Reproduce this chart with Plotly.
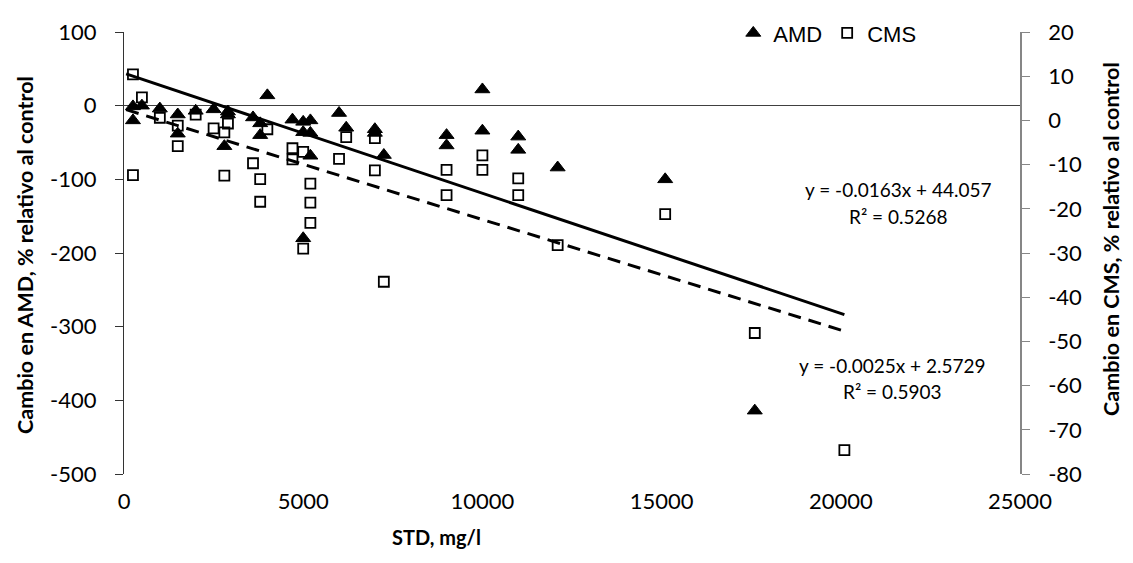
import plotly.graph_objects as go

# ---- data ----
amd_x = [250, 250, 500, 1000, 1500, 1500, 2000, 2500, 2900, 2900, 2800, 4000, 3600, 3800, 3800,
         4700, 5000, 5200, 5000, 5200, 5200, 5000, 6000, 6200, 7000, 7000, 7250, 9000, 9000,
         10000, 10000, 11000, 11000, 12100, 15100, 17600]
amd_y = [-1, -20, 0, -4, -12, -38, -7, -5, -8, -12, -55, 14, -16, -24, -40,
         -19, -22, -20, -36, -37, -68, -180, -10, -30, -32, -37, -67, -40, -54,
         22, -34, -42, -60, -84, -100, -414]

cms_x = [250, 250, 500, 1000, 1500, 1500, 2000, 2500, 2800, 2900, 2800, 3600, 3800, 3800, 4000,
         4700, 4700, 5000, 5200, 5200, 5200, 5000, 6000, 6200, 7000, 7000, 7250, 9000, 9000,
         10000, 10000, 11000, 11000, 12100, 15100, 17600, 20100]
cms_y = [10.4, -12.4, 5.2, 0.6, -1.2, -5.8, 1.3, -1.8, -2.7, -0.7, -12.5, -9.7, -13.3, -18.4, -2.0,
         -6.3, -8.8, -7.1, -14.3, -18.6, -23.2, -29.0, -8.7, -3.8, -4.0, -11.3, -36.5, -11.2, -16.9,
         -7.9, -11.2, -13.1, -16.9, -28.2, -21.2, -48.1, -74.6]

amd_slope, amd_intercept, amd_r2 = -0.0163, 44.057, 0.5268
cms_slope, cms_intercept, cms_r2 = -0.0025, 2.5729, 0.5903
trend_x = [60, 20100]

x_ticks = [0, 5000, 10000, 15000, 20000, 25000]
y1_ticks = [100, 0, -100, -200, -300, -400, -500]
y2_ticks = [20, 10, 0, -10, -20, -30, -40, -50, -60, -70, -80]

FONT = "Lato"

fig = go.Figure()

fig.add_trace(go.Scatter(
    x=cms_x, y=cms_y, mode="markers", name="CMS", yaxis="y2",
    marker=dict(symbol="square-open", size=10, color="black", line=dict(width=1.8, color="black")),
))
fig.add_trace(go.Scatter(
    x=amd_x, y=amd_y, mode="markers", name="AMD",
    marker=dict(symbol="triangle-up", size=13, color="black", line=dict(width=1, color="black")),
))
fig.add_trace(go.Scatter(
    x=trend_x, y=[amd_slope * v + amd_intercept for v in trend_x], mode="lines",
    line=dict(color="black", width=3), showlegend=False, hoverinfo="skip",
))
fig.add_trace(go.Scatter(
    x=trend_x, y=[cms_slope * v + cms_intercept for v in trend_x], mode="lines", yaxis="y2",
    line=dict(color="black", width=3, dash="13px,8px"), showlegend=False, hoverinfo="skip",
))

fig.update_layout(
    width=1133, height=563,
    margin=dict(l=124, r=113, t=22, b=89),
    paper_bgcolor="white", plot_bgcolor="white",
    font=dict(family=FONT, color="black", size=22),
    showlegend=True,
    legend=dict(orientation="h", x=0.68, y=1.045, xanchor="left", yanchor="top",
                font=dict(family="Liberation Sans", size=22), bgcolor="rgba(0,0,0,0)",
                traceorder="reversed"),
    xaxis=dict(range=[0, 25000], tickvals=x_ticks, ticktext=[str(v) for v in x_ticks],
               showgrid=False, zeroline=False,
               showline=False, ticks="", ticklabelstandoff=12,
               tickfont=dict(family=FONT, size=22)),
    yaxis=dict(range=[-500, 100], tickvals=y1_ticks, ticktext=[str(v) for v in y1_ticks],
               showgrid=False, zeroline=True,
               zerolinecolor="#404040", zerolinewidth=1.3,
               showline=True, linecolor="#333333", linewidth=1.3, ticks="outside",
               ticklen=8, tickcolor="#333333", ticklabelstandoff=14,
               tickfont=dict(family=FONT, size=22)),
    yaxis2=dict(range=[-80, 20], tickvals=y2_ticks, ticktext=[str(v) for v in y2_ticks],
                overlaying="y", side="right",
                showgrid=False, zeroline=False, showline=True, linecolor="#868686",
                linewidth=1.5, ticks="outside", ticklen=8, tickcolor="#868686",
                ticklabelstandoff=14, tickfont=dict(family=FONT, size=22)),
)

annots = [
    dict(x=21596, y=-114, xref="x", yref="y", text=f"y = {amd_slope}x + {amd_intercept}",
         showarrow=False, font=dict(family=FONT, size=19)),
    dict(x=21596, y=-150, xref="x", yref="y", text=f"R² = {amd_r2}",
         showarrow=False, font=dict(family=FONT, size=19)),
    dict(x=21429, y=-353, xref="x", yref="y", text=f"y = {cms_slope}x + {cms_intercept}",
         showarrow=False, font=dict(family=FONT, size=19)),
    dict(x=21429, y=-388.5, xref="x", yref="y", text=f"R² = {cms_r2}",
         showarrow=False, font=dict(family=FONT, size=19)),
    dict(x=-0.1105, y=0.4956, xref="paper", yref="paper", xanchor="center", yanchor="middle",
         text="<b>Cambio en AMD, % relativo al control</b>",
         textangle=-90, showarrow=False, font=dict(family=FONT, size=21.5)),
    dict(x=1.1023, y=0.531, xref="paper", yref="paper", xanchor="center", yanchor="middle",
         text="<b>Cambio en CMS, % relativo al control</b>",
         textangle=-90, showarrow=False, font=dict(family=FONT, size=21.5)),
    dict(x=0.349, y=-0.1416, xref="paper", yref="paper", xanchor="center", yanchor="middle",
         text="<b>STD, mg/l</b>",
         showarrow=False, font=dict(family=FONT, size=20)),
]
fig.update_layout(annotations=annots)

fig.write_html("out.html")
